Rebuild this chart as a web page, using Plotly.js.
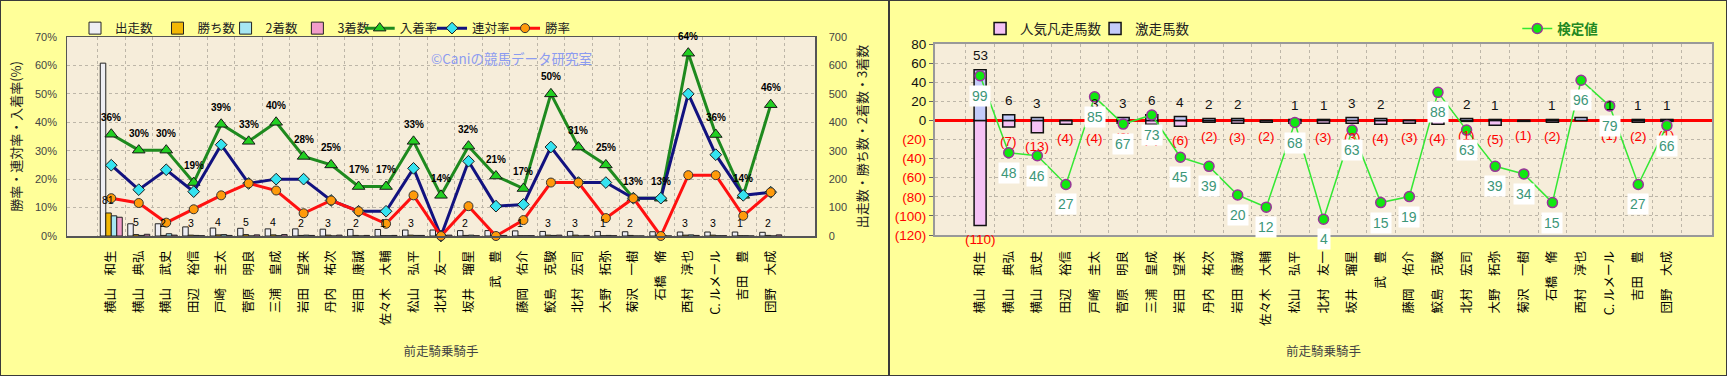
<!DOCTYPE html>
<html lang="ja">
<head>
<meta charset="utf-8">
<script src="https://cdn.plot.ly/plotly-3.0.1.min.js"></script>
<style>
html,body{margin:0;padding:0;background:#FFFF99;overflow:hidden;}
#wrapL{position:absolute;left:0;top:0;width:889px;height:376px;box-sizing:border-box;border:1px solid #3a3a3a;}
#wrapR{position:absolute;left:889px;top:0;width:838px;height:376px;box-sizing:border-box;border:1px solid #3a3a3a;}
#left,#right{position:absolute;left:0;top:0;}
</style>
</head>
<body>
<div id="wrapL"><div id="left"></div></div>
<div id="wrapR"><div id="right"></div></div>
<script>
// ---------- data ----------
const jockeys = ['横山　和生','横山　典弘','横山　武史','田辺　裕信','戸崎　圭太','菅原　明良','三浦　皇成','岩田　望来','丹内　祐次','岩田　康誠','佐々木　大輔','松山　弘平','北村　友一','坂井　瑠星','武　豊','藤岡　佑介','鮫島　克駿','北村　宏司','大野　拓弥','菊沢　一樹','石橋　脩','西村　淳也','C. ルメール','吉田　豊','団野　大成'];
const starts  = [608,43,43,32,28,27,25,25,24,23,23,21,21,19,19,18,16,16,16,15,15,14,14,14,13];
const wins    = [81,5,2,3,4,5,4,2,3,2,1,3,0,2,0,1,3,3,1,2,0,3,3,1,2];
const seconds = [71,2,8,2,5,0,1,3,0,0,1,2,0,3,2,1,2,0,2,0,2,4,1,1,0];
const thirds  = [66,6,3,1,2,4,5,2,3,2,2,2,3,1,2,1,3,2,1,0,0,2,1,0,4];
const placeRate    = [35.8,30.2,30.2,18.8,39.3,33.3,40.0,28.0,25.0,17.4,17.4,33.3,14.3,31.6,21.1,16.7,50.0,31.3,25.0,13.3,13.3,64.3,35.7,14.3,46.2];
const quinellaRate = [24.9,16.3,23.3,15.6,32.1,18.5,20.0,20.0,12.5,8.7,8.7,23.8,0,26.3,10.5,11.1,31.3,18.8,18.8,13.3,13.3,50.0,28.6,14.3,15.4];
const winRate      = [13.3,11.6,4.7,9.4,14.3,18.5,16.0,8.0,12.5,8.7,4.3,14.3,0,10.5,0,5.6,18.8,18.8,6.3,13.3,0,21.4,21.4,7.1,15.4];

const gekiso = [53,6,3,0,3,3,6,4,2,2,0,1,1,3,2,0,1,2,1,0,1,3,1,1,1];
const bonso  = [110,7,13,4,4,3,4,6,2,3,2,3,3,3,4,3,4,1,5,1,2,0,1,2,1];
const kentei = [99,48,46,27,85,67,73,45,39,20,12,68,4,63,15,19,88,63,39,34,15,96,79,27,66];

// ---------- styles ----------
const FJP = '"Noto Sans CJK JP", sans-serif';
const FNUM = '"Liberation Sans", Arial, sans-serif';
const GRID = '#BDB6A8';

function legendAt(x, y, font){
  return {orientation:'h', x:x, y:y, xanchor:'left', yanchor:'middle',
    font:font, bgcolor:'rgba(0,0,0,0)'};
}

// ---------- left chart ----------
function barL(name, vals, color, lg){
  return {type:'bar', name:name, x:jockeys, y:vals, yaxis:'y', legend:lg,
    marker:{color:color, line:{color:'#222', width:1}}, hoverinfo:'skip'};
}
function lineL(name, vals, lineColor, mk, lg){
  return {type:'scatter', mode:'lines+markers', name:name, x:jockeys, y:vals, yaxis:'y2', legend:lg,
    line:{color:lineColor, width:3}, marker:mk, cliponaxis:false, hoverinfo:'skip'};
}
const tracesL = [
  barL('出走数', starts, '#EEEEF3', 'legend'),
  barL('勝ち数', wins, '#F2B705', 'legend2'),
  barL('2着数', seconds, '#A6E6F2', 'legend3'),
  barL('3着数', thirds, '#F29CC9', 'legend4'),
  lineL('入着率', placeRate, '#1E8A1E', {symbol:'triangle-up', size:11, color:'#22D022', line:{color:'#1a1a1a', width:1}}, 'legend5'),
  lineL('連対率', quinellaRate, '#12127F', {symbol:'diamond', size:9, color:'#35E3F0', line:{color:'#1a1a1a', width:1}}, 'legend6'),
  lineL('勝率', winRate, '#FF1010', {symbol:'circle', size:9, color:'#FF9A0A', line:{color:'#333', width:1}}, 'legend7')
];
const annL = [{xref:'paper', yref:'paper', x:0.7045, y:0.9525, showarrow:false,
    text:'©Caniの競馬データ研究室', font:{family:FJP, size:13.5, color:'#8C9BF0'}}];
wins.forEach((v,i) => { if (v > 0) annL.push({x:jockeys[i], y:v, xref:'x', yref:'y', text:String(v),
    showarrow:false, xshift:-3, yshift:12.5, font:{family:FNUM, size:10.5, color:'#000'}}); });
placeRate.forEach((v,i) => annL.push({x:jockeys[i], y:v, xref:'x', yref:'y2', text:Math.round(v) + '%',
    showarrow:false, yshift:17, font:{family:FNUM, size:10, weight:'bold', color:'#000'}}));

const legFontL = {family:FJP, size:12.5, color:'#222'};
const LY = 1.0427;
const layoutL = {
  width:887, height:374,
  margin:{l:66, r:73, t:24.7, b:138.7, pad:0},
  paper_bgcolor:'#FFFF99', plot_bgcolor:'#F6EDDA',
  barmode:'group', bargap:0.2, bargroupgap:0,
  showlegend:true, hovermode:false,
  font:{family:FJP, color:'#222'},
  xaxis:{type:'category', tickangle:-90, ticks:'', ticklabelstandoff:8,
    tickfont:{family:FJP, size:12.5, color:'#000'},
    showgrid:true, gridcolor:GRID, griddash:'dot', gridwidth:1, tickson:'boundaries',
    showline:true, linecolor:'#555', linewidth:1.5, mirror:true,
    title:{text:'前走騎乗騎手', font:{family:FJP, size:12.5, color:'#444'}, standoff:22}},
  yaxis:{side:'right', range:[0,700], dtick:100, tickfont:{family:FNUM, size:11, color:'#444'},
    showgrid:true, gridcolor:GRID, griddash:'dot', zeroline:false,
    showline:true, linecolor:'#555', linewidth:1.5, mirror:true, ticks:'', ticklabelstandoff:10,
    title:{text:'出走数・勝ち数・2着数・3着数', font:{family:FJP, size:13, color:'#222'}, standoff:12}},
  yaxis2:{overlaying:'y', side:'left', range:[0,70], dtick:10, ticksuffix:'%',
    tickfont:{family:FNUM, size:11, color:'#444'}, showgrid:false, zeroline:false, ticks:'', ticklabelstandoff:9,
    title:{text:'勝率・連対率・入着率(%)', font:{family:FJP, size:13, color:'#222'}, standoff:10}},
  legend:  legendAt(0.0107, LY, legFontL),
  legend2: legendAt(0.1210, LY, legFontL),
  legend3: legendAt(0.2120, LY, legFontL),
  legend4: legendAt(0.3080, LY, legFontL),
  legend5: legendAt(0.3913, LY, legFontL),
  legend6: legendAt(0.4880, LY, legFontL),
  legend7: legendAt(0.5856, LY, legFontL),
  annotations:annL
};
Plotly.newPlot('left', tracesL, layoutL, {staticPlot:true, displayModeBar:false});

// ---------- right chart ----------
const tracesR = [
  {type:'bar', name:'人気凡走馬数', x:jockeys, y:bonso.map(v => -v), width:0.42,
    marker:{color:'#F5C2F5', line:{color:'#111', width:1.5}}, legend:'legend', hoverinfo:'skip'},
  {type:'bar', name:'激走馬数', x:jockeys, y:gekiso, width:0.42,
    marker:{color:'#C4CCFA', line:{color:'#111', width:1.5}}, legend:'legend2', hoverinfo:'skip'},
  {type:'scatter', mode:'lines+markers', name:'検定値', x:jockeys, y:kentei, yaxis:'y2',
    line:{color:'#33E833', width:1.5},
    marker:{symbol:'circle', size:10, color:'#10E810', line:{color:'#993399', width:1.5}},
    legend:'legend3', cliponaxis:false, hoverinfo:'skip'}
];
const annR = [];
gekiso.forEach((v,i) => { if (v > 0) annR.push({x:jockeys[i], y:v, xref:'x', yref:'y', text:String(v),
    showarrow:false, yshift:14, font:{family:FNUM, size:13.5, color:'#111'}}); });
bonso.forEach((v,i) => { if (v > 0) annR.push({x:jockeys[i], y:-v, xref:'x', yref:'y', text:'(' + v + ')',
    showarrow:false, yshift:-14, font:{family:FNUM, size:13.5, color:'#FF0000'}}); });
kentei.forEach((v,i) => annR.push({x:jockeys[i], y:v, xref:'x', yref:'y2', text:String(v),
    showarrow:false, yshift:-20, bgcolor:'#FFFFFF', borderpad:2,
    font:{family:FNUM, size:14, color:'#3C9678'}}));

const yTicks = [80,60,40,20,0,-20,-40,-60,-80,-100,-120];
const legFontR = {family:FJP, size:13.5, color:'#222'};
const RY = 1.0797;
const layoutR = {
  width:836, height:374,
  margin:{l:45, r:14.3, t:33.3, b:140, pad:0},
  paper_bgcolor:'#FFFF99', plot_bgcolor:'#F6EDDA',
  barmode:'overlay', hovermode:false, showlegend:true,
  font:{family:FJP, color:'#222'},
  xaxis:{type:'category', tickangle:-90, ticks:'', ticklabelstandoff:9,
    tickfont:{family:FJP, size:12.5, color:'#000'},
    showgrid:true, gridcolor:GRID, griddash:'dot', gridwidth:1, tickson:'boundaries',
    showline:true, linecolor:'#999', linewidth:2, mirror:true,
    title:{text:'前走騎乗騎手', font:{family:FJP, size:12.5, color:'#444'}, standoff:22}},
  yaxis:{range:[-120,80], tickvals:yTicks,
    ticktext:yTicks.map(v => v < 0 ? '<span style="color:#FF0000">(' + (-v) + ')</span>' : String(v)),
    tickfont:{family:FNUM, size:13.5, color:'#111'},
    showgrid:true, gridcolor:GRID, griddash:'dot',
    zeroline:true, zerolinecolor:'#FF0000', zerolinewidth:3,
    showline:true, linecolor:'#999', linewidth:2, mirror:true, ticks:'outside', ticklen:4, tickcolor:'#666'},
  yaxis2:{overlaying:'y', range:[-6.45,120], visible:false},
  legend:  legendAt(0.0580, RY, legFontR),
  legend2: legendAt(0.2060, RY, legFontR),
  legend3: legendAt(0.7494, RY, {family:FJP, size:13.5, color:'#228822', weight:'bold'}),
  annotations:annR
};
Plotly.newPlot('right', tracesR, layoutR, {staticPlot:true, displayModeBar:false});
</script>
</body>
</html>
